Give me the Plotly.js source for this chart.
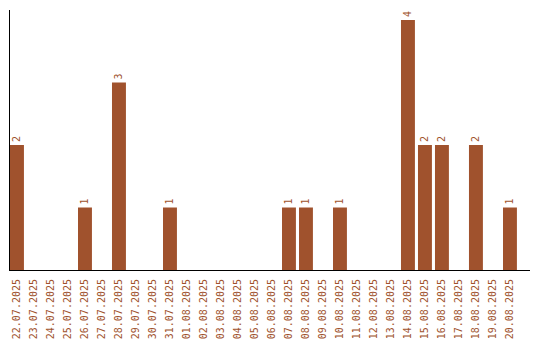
<!DOCTYPE html>
<html>
<head>
<meta charset="utf-8">
<script src="https://cdn.plot.ly/plotly-3.0.1.min.js"></script>
<style>html,body{margin:0;padding:0;background:#fff;}#chart{width:540px;height:340px;}</style>
</head>
<body>
<div id="chart"></div>
<script>
const dates = ["22.07.2025","23.07.2025","24.07.2025","25.07.2025","26.07.2025","27.07.2025","28.07.2025","29.07.2025","30.07.2025","31.07.2025","01.08.2025","02.08.2025","03.08.2025","04.08.2025","05.08.2025","06.08.2025","07.08.2025","08.08.2025","09.08.2025","10.08.2025","11.08.2025","12.08.2025","13.08.2025","14.08.2025","15.08.2025","16.08.2025","17.08.2025","18.08.2025","19.08.2025","20.08.2025"];
const counts = [2,0,0,0,1,0,3,0,0,1,0,0,0,0,0,0,1,1,0,1,0,0,0,4,2,2,0,2,0,1];
const labels = counts.map(v => v > 0 ? String(v) : "");

const brown = "#A0522D";
const trace = {
  type: "bar",
  x: dates,
  y: counts,
  marker: {color: brown},
  text: labels,
  texttemplate: "%{text}",
  textposition: "outside",
  textangle: -90,
  cliponaxis: false,
  textfont: {family: "DejaVu Sans Mono", size: 10, color: brown},
  hoverinfo: "none"
};
const layout = {
  width: 540, height: 340,
  margin: {l: 10, r: 10, t: 10, b: 70},
  paper_bgcolor: "#fff", plot_bgcolor: "#fff",
  showlegend: false,
  bargap: 0.18,
  xaxis: {
    type: "category",
    range: [-0.41, 30.18],
    showline: true, linecolor: "#000", linewidth: 1,
    showgrid: false, zeroline: false,
    ticks: "", tickangle: -90,
    tickfont: {family: "DejaVu Sans Mono", size: 10, color: brown},
    ticklabelstandoff: 4,
    fixedrange: true
  },
  yaxis: {
    range: [0, 4.16],
    showline: true, linecolor: "#000", linewidth: 1,
    showgrid: false, zeroline: false,
    showticklabels: false, ticks: "",
    fixedrange: true
  }
};
Plotly.newPlot("chart", [trace], layout, {displayModeBar: false, staticPlot: true});
</script>
</body>
</html>
